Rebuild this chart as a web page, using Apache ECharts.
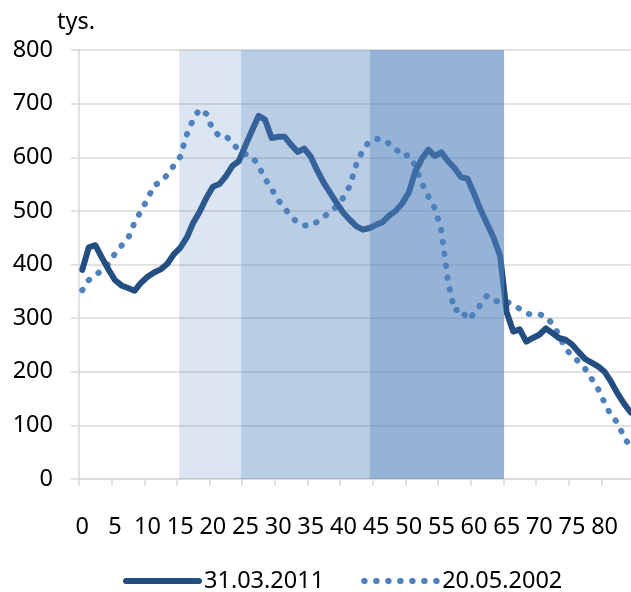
<!DOCTYPE html>
<html>
<head>
<meta charset="utf-8">
<script src="https://cdn.jsdelivr.net/npm/echarts@6/dist/echarts.min.js"></script>
<style>
  html, body { margin: 0; padding: 0; background: #ffffff; }
  #chart { width: 631px; height: 592px; }
</style>
</head>
<body>
<div id="chart"></div>
<script>
// Single years of age, 0 to 84
const ages = [];
for (let a = 0; a <= 84; a++) ages.push(String(a));

// Population by single year of age, thousands
const census2011 = [
  390, 432, 436, 413, 391, 371, 361, 356, 351, 366,
  377, 385, 391, 401, 419, 431, 450, 478, 499, 524,
  545, 550, 565, 584, 593, 622, 650, 677, 670, 636,
  638, 638, 623, 610, 616, 601, 575, 552, 533, 514,
  496, 483, 471, 465, 468, 474, 479, 491, 500, 514,
  534, 573, 597, 614, 602, 609, 593, 580, 563, 560,
  532, 502, 476, 450, 416, 311, 275, 279, 256, 263,
  269, 281, 272, 263, 260, 251, 237, 224, 217, 210,
  200, 181, 159, 140, 124
];
const census2002 = [
  352, 371, 380, 389, 401, 420, 435, 448, 478, 500,
  522, 548, 553, 567, 584, 601, 642, 671, 690, 681,
  651, 640, 640, 625, 614, 606, 601, 584, 560, 541,
  520, 505, 489, 478, 473, 472, 480, 489, 498, 509,
  525, 547, 588, 614, 630, 634, 634, 625, 616, 602,
  604, 584, 552, 527, 505, 463, 370, 314, 318, 297,
  308, 325, 342, 334, 329, 330, 326, 317, 309, 306,
  307, 304, 289, 269, 243, 230, 219, 206, 187, 168,
  142, 118, 105, 77, 60
];
const seriesNames = ['31.03.2011', '20.05.2002'];

// Shaded age bands, in age units along the axis, and their tint strength
const bandRanges = [[15.35, 24.8], [24.8, 44.5], [44.5, 65.1]];
const bandAlpha = [0.2, 0.4, 0.6];

// Value axis
const yMin = 0, yMax = 800, yStep = 100;
const unitLabel = 'tys.';

const FONT = 'Noto Sans';
const FONT_SIZE = 23.5;
const GRID_GREY = '#D9D9D9';
const NAVY = '#234E82';
const STEEL = '#4F81BD';

const chart = echarts.init(document.getElementById('chart'), null, { renderer: 'canvas' });

const bandData = bandRanges.map((r, i) => [
  { xAxis: r[0], itemStyle: { color: 'rgba(79,129,189,' + bandAlpha[i] + ')' } },
  { xAxis: r[1] }
]);

chart.setOption({
  animation: false,
  backgroundColor: '#ffffff',
  textStyle: { fontFamily: FONT, color: '#000000' },
  grid: { left: 79, top: 50, right: -3, bottom: 113, containLabel: false, outerBoundsMode: 'none' },
  legend: {
    data: seriesNames,
    left: 123,
    top: 569,
    padding: 0,
    itemWidth: 73,
    itemHeight: 14,
    itemGap: 37,
    itemStyle: { opacity: 0 },
    lineStyle: { width: 6, cap: 'round' },
    textStyle: { fontFamily: FONT, fontSize: FONT_SIZE, color: '#000000' }
  },
  xAxis: [
    {
      type: 'category',
      data: ages,
      boundaryGap: true,
      axisLine: { show: true, lineStyle: { color: GRID_GREY, width: 1.5 } },
      axisTick: { show: true, interval: 4, length: 7, lineStyle: { color: GRID_GREY, width: 1.5 } },
      axisLabel: { interval: 4, margin: 36, fontFamily: FONT, fontSize: FONT_SIZE, color: '#000000' },
      splitLine: { show: false }
    },
    {
      // continuous companion axis spanning the same plot, used to place the age bands
      type: 'value',
      min: 0,
      max: ages.length,
      show: false
    }
  ],
  yAxis: {
    type: 'value',
    min: yMin,
    max: yMax,
    interval: yStep,
    name: unitLabel,
    nameLocation: 'end',
    nameGap: 16,
    nameTextStyle: { fontFamily: FONT, fontSize: FONT_SIZE, color: '#000000', align: 'center', padding: [0, 6, 0, 0] },
    axisLine: { show: true, lineStyle: { color: GRID_GREY, width: 1.5 } },
    axisTick: { show: true, length: 8, lineStyle: { color: GRID_GREY, width: 1.5 } },
    axisLabel: { margin: 26, fontFamily: FONT, fontSize: FONT_SIZE, color: '#000000' },
    splitLine: { show: true, lineStyle: { color: GRID_GREY, width: 1.5 } }
  },
  series: [
    {
      name: seriesNames[0],
      type: 'line',
      data: census2011,
      symbol: 'none',
      showSymbol: false,
      smooth: false,
      z: 3,
      lineStyle: { color: NAVY, width: 6, join: 'round', cap: 'round' },
      itemStyle: { color: NAVY }
    },
    {
      name: seriesNames[1],
      type: 'line',
      data: census2002,
      symbol: 'none',
      showSymbol: false,
      smooth: false,
      z: 2,
      lineStyle: { color: STEEL, width: 6, type: [0.5, 11.5], cap: 'round', join: 'round' },
      itemStyle: { color: STEEL }
    },
    {
      type: 'line',
      xAxisIndex: 1,
      data: [],
      silent: true,
      z: 10,
      markArea: {
        silent: true,
        z: 10,
        label: { show: false },
        emphasis: { disabled: true },
        data: bandData
      }
    }
  ]
});
</script>
</body>
</html>
